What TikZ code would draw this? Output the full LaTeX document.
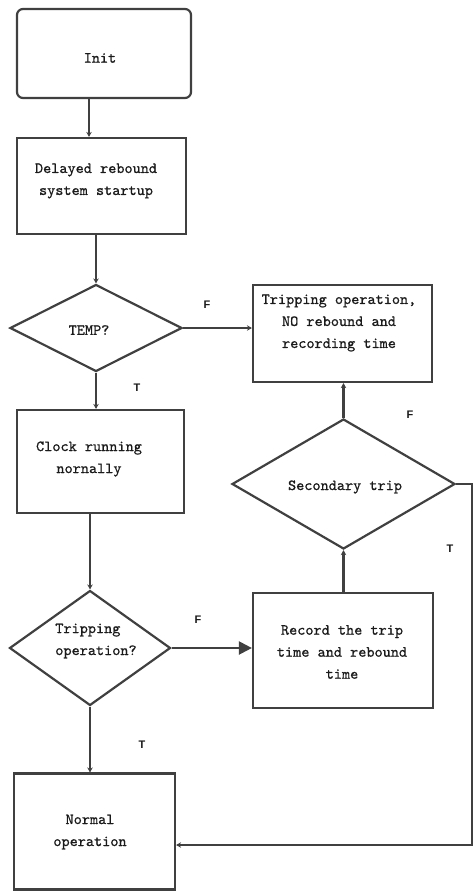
\documentclass[tikz,border=0pt]{standalone}
\usepackage{fontspec}
\setsansfont{Liberation Sans}
\setmonofont{lmmono10-regular.otf}[FakeBold=0.8]
\usetikzlibrary{shapes.geometric,arrows.meta,calc}
\definecolor{linec}{HTML}{404040}
\definecolor{txtc}{HTML}{1A1A1A}
\tikzset{
  boxnode/.style={draw=linec, line width=2.2pt, inner sep=0pt, align=center, text=txtc,
    font=\ttfamily\fontsize{15.5}{22}\selectfont},
  dianode/.style={draw=linec, line width=2.2pt, diamond, inner sep=0pt, text=txtc,
    font=\ttfamily\fontsize{15.5}{22}\selectfont},
  txtnode/.style={inner sep=0pt, align=center, text=txtc, font=\ttfamily\fontsize{15.5}{22}\selectfont},
  conn/.style={draw=linec, line width=2.2pt},
  arr/.style={conn, -{Stealth[length=5pt,width=5.5pt]}},
  bigarr/.style={conn, -{Triangle[length=13pt,width=13pt]}},
  tf/.style={font=\sffamily\bfseries\fontsize{11}{13}\selectfont, text=txtc, inner sep=0pt}
}
\begin{document}
\begin{tikzpicture}[x=1pt,y=-1pt]
\useasboundingbox (0,0) rectangle (475,891);
% boxes
\node[boxnode, rounded corners=6pt, minimum width=174pt, minimum height=89pt] (init) at (104,53.5) {};
\node[txtnode] (inittxt) at (100,58) {Init};
\node[boxnode, minimum width=169pt, minimum height=96pt] (delay) at (101.5,186) {};
\node[txtnode] (delaytxt) at (96,181) {Delayed rebound\\system startup};
\node[dianode, minimum width=172pt, minimum height=87pt] (temp) at (96,328) {};
\node[txtnode] (temptxt) at (89,330) {TEMP?};
\node[boxnode, minimum width=179pt, minimum height=97pt] (trip) at (342.5,333.5) {};
\node[txtnode] (triptxt) at (339,323) {Tripping operation,\\NO rebound and\\recording time};
\node[boxnode, minimum width=167pt, minimum height=103pt] (clock) at (100.5,461.5) {};
\node[txtnode] (clocktxt) at (89,459) {Clock running\\nornally};
\node[dianode, minimum width=223pt, minimum height=130pt] (sec) at (343.5,484) {};
\node[txtnode] (sectxt) at (345,487) {Secondary trip};
\node[dianode, minimum width=161pt, minimum height=115pt] (tdia) at (90,648) {};
\node[txtnode, align=left] (tdiatxt) at (96,641) {Tripping\\operation?};
\node[boxnode, minimum width=180pt, minimum height=115pt] (rec) at (343,650.5) {};
\node[txtnode] (rectxt) at (342,652) {Record the trip\\time and rebound\\time};
\node[boxnode, minimum width=161pt, minimum height=116pt] (norm) at (94.5,831.5) {};
\node[txtnode] (normtxt) at (90,832) {Normal\\operation};
% connectors
\draw[arr] ([xshift=-15pt]init.south) -- ([xshift=-15pt]init.south |- delay.north);
\draw[arr] (delay.south -| temp.north) -- (temp.north);
\draw[arr] (temp.south) -- (temp.south |- clock.north);
\draw[arr] (temp.east) -- (temp.east -| trip.west);
\draw[arr] (clock.south -| tdia.north) -- (tdia.north);
\draw[bigarr] (tdia.east) -- (tdia.east -| rec.west);
\draw[arr] (tdia.south) -- (tdia.south |- norm.north);
\draw[arr] (rec.north -| sec.south) -- (sec.south);
\draw[arr] (sec.north) -- (sec.north |- trip.south);
\coordinate (cr) at (472,845);
\draw[arr] (sec.east) -| (cr) -- (cr -| norm.east);
% labels
\node[tf] (f1) at (207,305) {F};
\node[tf] (t1) at (137,388) {T};
\node[tf] (f2) at (410,415) {F};
\node[tf] (t2) at (450,549) {T};
\node[tf] (f3) at (198,620) {F};
\node[tf] (t3) at (142,745) {T};
\end{tikzpicture}
\end{document}
